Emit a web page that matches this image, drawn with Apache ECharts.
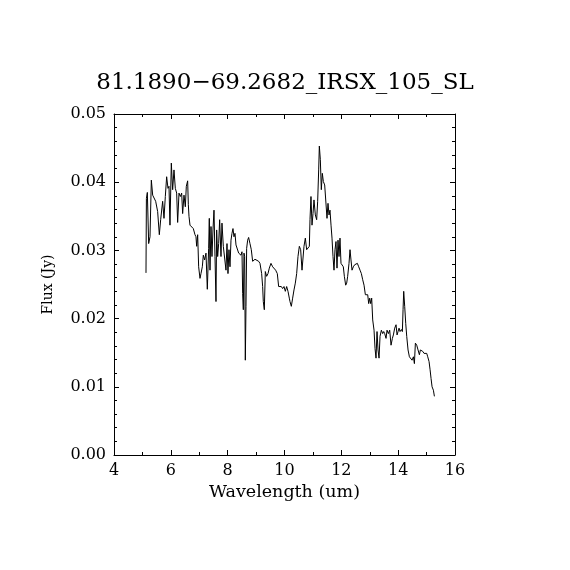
<!DOCTYPE html>
<html>
<head>
<meta charset="utf-8">
<script src="https://cdn.jsdelivr.net/npm/echarts@6/dist/echarts.min.js"></script>
<style>
html,body{margin:0;padding:0;background:#fff;}
#chart{width:570px;height:570px;}
</style>
</head>
<body>
<div id="chart"></div>
<script>
var chartTitle = "81.1890\u221269.2682_IRSX_105_SL";
var xTicks = [4, 6, 8, 10, 12, 14, 16];
var yTicks = [0.00, 0.01, 0.02, 0.03, 0.04, 0.05];
var wavelength = [
5.126,5.140,5.173,5.220,5.267,5.314,5.361,5.419,5.466,5.536,5.595,5.642,5.712,5.759,5.806,5.853,5.900,5.935,5.970,6.017,
6.064,6.111,6.158,6.205,6.240,6.287,6.334,6.381,6.416,6.463,6.510,6.545,6.592,6.616,6.639,6.674,6.733,6.791,6.850,6.885,
6.909,6.944,6.979,7.026,7.061,7.108,7.143,7.190,7.237,7.284,7.331,7.354,7.378,7.413,7.448,7.483,7.519,7.554,7.589,7.612,
7.648,7.683,7.718,7.765,7.800,7.847,7.894,7.941,7.976,8.011,8.046,8.082,8.117,8.152,8.187,8.222,8.258,8.293,8.340,8.387,
8.434,8.469,8.504,8.527,8.551,8.574,8.598,8.621,8.645,8.668,8.703,8.738,8.785,8.832,8.879,8.914,8.961,9.020,9.090,9.137,
9.196,9.231,9.254,9.290,9.325,9.372,9.419,9.466,9.524,9.583,9.630,9.688,9.747,9.794,9.841,9.888,9.935,9.982,10.029,10.076,
10.123,10.169,10.193,10.240,10.287,10.334,10.381,10.428,10.475,10.522,10.569,10.616,10.651,10.686,10.733,10.780,10.827,10.874,10.897,10.932,
10.968,11.003,11.038,11.085,11.132,11.167,11.203,11.226,11.261,11.296,11.331,11.367,11.414,11.461,11.496,11.531,11.566,11.601,11.637,11.672,
11.707,11.742,11.777,11.812,11.848,11.883,11.918,11.953,11.988,12.023,12.070,12.106,12.153,12.188,12.223,12.270,12.305,12.340,12.376,12.423,
12.470,12.517,12.564,12.611,12.658,12.705,12.752,12.799,12.846,12.893,12.928,12.963,12.998,13.033,13.068,13.104,13.151,13.186,13.221,13.256,
13.291,13.327,13.362,13.409,13.456,13.491,13.526,13.573,13.608,13.655,13.702,13.749,13.796,13.831,13.878,13.925,13.961,13.996,14.031,14.066,
14.113,14.148,14.172,14.195,14.230,14.266,14.301,14.348,14.395,14.442,14.489,14.536,14.571,14.606,14.653,14.700,14.747,14.782,14.829,14.864,
14.911,14.958,15.005,15.040,15.087,15.123,15.158,15.193,15.240,15.275
];
var flux = [
0.0267,0.0376,0.0385,0.0310,0.0320,0.0403,0.0381,0.0379,0.0372,0.0357,0.0323,0.0345,0.0372,0.0347,0.0379,0.0408,0.0391,0.0394,0.0337,0.0428,
0.0389,0.0418,0.0391,0.0384,0.0341,0.0384,0.0379,0.0384,0.0354,0.0381,0.0364,0.0394,0.0402,0.0367,0.0350,0.0337,0.0335,0.0332,0.0323,0.0320,
0.0306,0.0323,0.0276,0.0259,0.0266,0.0276,0.0293,0.0286,0.0296,0.0243,0.0303,0.0347,0.0271,0.0335,0.0291,0.0330,0.0359,0.0291,0.0225,0.0330,
0.0291,0.0310,0.0345,0.0291,0.0340,0.0306,0.0306,0.0271,0.0310,0.0266,0.0301,0.0276,0.0315,0.0325,0.0332,0.0320,0.0325,0.0308,0.0306,0.0296,
0.0296,0.0293,0.0298,0.0237,0.0213,0.0296,0.0291,0.0139,0.0218,0.0303,0.0315,0.0319,0.0310,0.0301,0.0284,0.0284,0.0287,0.0288,0.0284,0.0281,
0.0266,0.0247,0.0225,0.0213,0.0269,0.0262,0.0266,0.0274,0.0281,0.0276,0.0274,0.0271,0.0266,0.0247,0.0249,0.0247,0.0244,0.0247,0.0240,0.0247,
0.0240,0.0230,0.0225,0.0218,0.0230,0.0242,0.0252,0.0266,0.0291,0.0306,0.0301,0.0271,0.0269,0.0306,0.0318,0.0301,0.0303,0.0306,0.0345,0.0379,
0.0337,0.0354,0.0374,0.0352,0.0345,0.0372,0.0418,0.0453,0.0433,0.0389,0.0413,0.0401,0.0396,0.0396,0.0347,0.0369,0.0352,0.0359,0.0337,0.0318,
0.0291,0.0271,0.0301,0.0313,0.0274,0.0315,0.0291,0.0318,0.0281,0.0279,0.0276,0.0262,0.0249,0.0252,0.0262,0.0281,0.0301,0.0286,0.0271,0.0276,
0.0279,0.0281,0.0281,0.0276,0.0271,0.0266,0.0257,0.0249,0.0235,0.0237,0.0235,0.0222,0.0230,0.0222,0.0230,0.0198,0.0183,0.0156,0.0142,0.0181,
0.0154,0.0142,0.0174,0.0183,0.0178,0.0181,0.0178,0.0171,0.0183,0.0178,0.0183,0.0161,0.0171,0.0176,0.0186,0.0191,0.0176,0.0181,0.0186,0.0181,
0.0184,0.0181,0.0213,0.0240,0.0218,0.0193,0.0174,0.0154,0.0144,0.0142,0.0139,0.0144,0.0134,0.0164,0.0161,0.0154,0.0147,0.0154,0.0154,0.0152,
0.0149,0.0147,0.0149,0.0144,0.0137,0.0125,0.0112,0.0100,0.0095,0.0086
];

var seriesData = wavelength.map(function (w, i) { return [w, flux[i]]; });
var font = "DejaVu Serif";
function baseAxis(extra) {
  var a = {
    type: 'value',
    axisLine: { show: true, onZero: false, lineStyle: { color: '#000', width: 1 } },
    axisTick: { show: true, inside: true, length: 5, lineStyle: { color: '#000', width: 1 } },
    minorTick: { show: true, length: 3, lineStyle: { color: '#000', width: 1 } },
    splitLine: { show: false },
    minorSplitLine: { show: false }
  };
  for (var k in extra) a[k] = extra[k];
  return a;
}
var xMin = xTicks[0], xMax = xTicks[xTicks.length - 1], xInt = xTicks[1] - xTicks[0];
var yMin = yTicks[0], yMax = yTicks[yTicks.length - 1], yInt = yTicks[1] - yTicks[0];

var chart = echarts.init(document.getElementById('chart'), null, { renderer: 'canvas' });
chart.setOption({
  animation: false,
  backgroundColor: '#fff',
  title: {
    text: chartTitle,
    left: 'center',
    top: 67,
    textStyle: { fontFamily: font, fontSize: 23, fontWeight: 'normal', color: '#000' }
  },
  grid: { left: 114, right: 115, top: 114, bottom: 115, containLabel: false },
  xAxis: [
    baseAxis({
      position: 'bottom', min: xMin, max: xMax, interval: xInt,
      minorTick: { show: true, splitNumber: 2, length: 3, lineStyle: { color: '#000', width: 1 } },
      axisLabel: { show: true, margin: 8, fontFamily: font, fontSize: 16, color: '#000' },
      name: 'Wavelength (um)', nameLocation: 'middle', nameGap: 28,
      nameTextStyle: { fontFamily: font, fontSize: 17.5, color: '#000' }
    }),
    baseAxis({
      position: 'top', min: xMin, max: xMax, interval: xInt,
      minorTick: { show: true, splitNumber: 2, length: 3, lineStyle: { color: '#000', width: 1 } },
      axisLabel: { show: false }
    })
  ],
  yAxis: [
    baseAxis({
      position: 'left', min: yMin, max: yMax, interval: yInt,
      minorTick: { show: true, splitNumber: 5, length: 3, lineStyle: { color: '#000', width: 1 } },
      axisLabel: { show: true, margin: 8, fontFamily: font, fontSize: 16, color: '#000',
        formatter: function (v) { return v.toFixed(2); } },
      name: 'Flux (Jy)', nameLocation: 'middle', nameGap: 59,
      nameTextStyle: { fontFamily: font, fontSize: 14, color: '#000' }
    }),
    baseAxis({
      position: 'right', min: yMin, max: yMax, interval: yInt,
      minorTick: { show: true, splitNumber: 5, length: 3, lineStyle: { color: '#000', width: 1 } },
      axisLabel: { show: false }
    })
  ],
  series: [{
    type: 'line',
    xAxisIndex: 0,
    yAxisIndex: 0,
    data: seriesData,
    showSymbol: false,
    symbol: 'none',
    smooth: false,
    lineStyle: { color: '#000', width: 1 }
  }]
});
</script>
</body>
</html>
